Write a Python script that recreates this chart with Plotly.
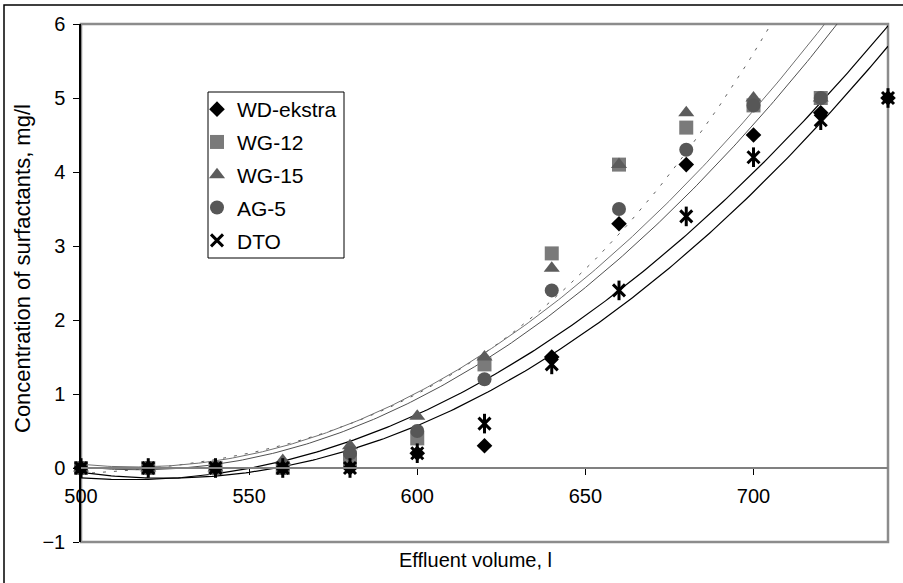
import numpy as np
import plotly.graph_objects as go

# ---- data ----
x_vol = [500, 520, 540, 560, 580, 600, 620, 640, 660, 680, 700, 720, 740]
wd_ekstra = [0, 0, 0, 0, 0, 0.2, 0.3, 1.5, 3.3, 4.1, 4.5, 4.8, 5.0]
dto = [0, 0, 0, 0, 0, 0.2, 0.6, 1.4, 2.4, 3.4, 4.2, 4.7, 5.0]

x_gray = [500, 520, 540, 560, 580, 600, 620, 640, 660, 680, 700, 720]
wg12 = [0, 0, 0, 0, 0.1, 0.4, 1.4, 2.9, 4.1, 4.6, 4.9, 5.0]
wg15 = [0, 0, 0, 0.1, 0.3, 0.7, 1.5, 2.7, 4.1, 4.8, 5.0, 5.0]
ag5 = [0, 0, 0, 0, 0.2, 0.5, 1.2, 2.4, 3.5, 4.3, 4.9, 5.0]

# trend curves, values
tr_dashed_x = [500, 520, 560, 600, 620, 640, 660, 680, 700, 705.5]
tr_dashed_y = [-0.08, 0.0, 0.30, 1.00, 1.55, 2.30, 3.11, 4.28, 5.62, 6.0]
tr_gray1_x = [500, 520, 560, 600, 620, 640, 660, 680, 700, 720.8]
tr_gray1_y = [-0.03, 0.07, 0.38, 1.02, 1.55, 2.15, 2.90, 3.84, 4.86, 6.0]
tr_gray2_x = [500, 520, 560, 600, 620, 640, 660, 680, 700, 724.7]
tr_gray2_y = [-0.07, 0.03, 0.33, 0.95, 1.45, 2.00, 2.75, 3.70, 4.68, 6.0]
tr_wd_x = [500, 540, 600, 620, 660, 680, 700, 720, 740]
tr_wd_y = [-0.15, -0.06, 0.73, 1.20, 2.42, 3.12, 3.95, 4.92, 6.02]
tr_dto_x = [500, 540, 600, 620, 660, 680, 700, 720, 740]
tr_dto_y = [-0.07, -0.10, 0.57, 1.02, 2.20, 2.88, 3.68, 4.62, 5.76]

x_ticks = [500, 550, 600, 650, 700]
y_ticks = [-1, 0, 1, 2, 3, 4, 5, 6]

FONT = "Liberation Sans, Arial, sans-serif"
FS = 20

fig = go.Figure()

xs = np.linspace(500, 740, 241)


def smooth(xr, yr, deg=2):
    c = np.polyfit(xr, yr, deg)
    return np.polyval(c, xs)


# trend lines
fig.add_trace(go.Scatter(x=xs, y=smooth(tr_dashed_x, tr_dashed_y, 3), mode="lines",
                         line=dict(color="#606060", width=1, dash="3px,8px"),
                         showlegend=False, hoverinfo="skip"))
fig.add_trace(go.Scatter(x=xs, y=smooth(tr_gray1_x, tr_gray1_y), mode="lines",
                         line=dict(color="#707070", width=1),
                         showlegend=False, hoverinfo="skip"))
fig.add_trace(go.Scatter(x=xs, y=smooth(tr_gray2_x, tr_gray2_y), mode="lines",
                         line=dict(color="#505050", width=1),
                         showlegend=False, hoverinfo="skip"))
fig.add_trace(go.Scatter(x=xs, y=smooth(tr_wd_x, tr_wd_y), mode="lines",
                         line=dict(color="#000000", width=1.2),
                         showlegend=False, hoverinfo="skip"))
fig.add_trace(go.Scatter(x=xs, y=smooth(tr_dto_x, tr_dto_y), mode="lines",
                         line=dict(color="#000000", width=1.2),
                         showlegend=False, hoverinfo="skip"))

# markers (drawing order)
sq = dict(symbol="square", size=14, color="#7a7a7a")
tri = dict(symbol="triangle-up", size=14, color="#5c5c5c")
cir = dict(symbol="circle", size=14, color="#575757")
dia = dict(symbol="diamond", size=12, color="#000000")
xst = dict(symbol="x-thin-open", size=12, color="#000000", line=dict(width=3, color="#000000"))
vst = dict(symbol="line-ns-open", size=14, color="#000000", line=dict(width=3, color="#000000"))

for xx, yy, m in [(x_gray, wg12, sq), (x_gray, wg15, tri), (x_gray, ag5, cir),
                  (x_vol, wd_ekstra, dia), (x_vol, dto, xst), (x_vol, dto, vst)]:
    fig.add_trace(go.Scatter(x=xx, y=yy, mode="markers", marker=m, cliponaxis=False,
                             showlegend=False))

# legend entries
for name, m in [("WD-ekstra", dia), ("WG-12", sq), ("WG-15", tri), ("AG-5", cir), ("DTO", xst)]:
    fig.add_trace(go.Scatter(x=[None], y=[None], mode="markers", marker=m, name=name,
                             legendgroup=name))

L, R, T, B = 81, 15, 24, 41
W, H = 903, 583
pw, ph = W - L - R, H - T - B


def px(xp):
    return (xp - L) / pw


def py(yp):
    return (H - B - yp) / ph


fig.update_layout(
    width=W, height=H,
    margin=dict(l=L, r=R, t=T, b=B, autoexpand=False),
    paper_bgcolor="white", plot_bgcolor="white",
    font=dict(family=FONT, size=FS, color="#000000"),
    showlegend=True,
    legend=dict(x=px(197), y=py(89), xanchor="left", yanchor="top",
                borderwidth=0, bgcolor="rgba(0,0,0,0)",
                traceorder="grouped", tracegroupgap=2.5, itemwidth=30,
                font=dict(family=FONT, size=21)),
    xaxis=dict(range=[500, 740], tickvals=x_ticks, ticks="outside", ticklen=6,
               tickcolor="#000000", showline=True, linecolor="#808080", linewidth=1.5,
               showgrid=False, zeroline=False, anchor="free", position=1 / 7,
               ticklabelstandoff=4, tickfont=dict(size=FS)),
    yaxis=dict(range=[-1, 6], tickvals=y_ticks, ticks="outside", ticklen=6,
               tickcolor="#000000", showline=True, linecolor="#000000", linewidth=1.5,
               showgrid=False, zeroline=False, ticklabelstandoff=4, tickfont=dict(size=FS)),
    shapes=[
        dict(type="rect", xref="paper", yref="paper", x0=0, x1=1, y0=0, y1=1,
             line=dict(color="#8c8c8c", width=2.5), layer="below"),
        dict(type="rect", xref="paper", yref="paper", x0=px(4), x1=px(910),
             y0=py(595), y1=py(5), line=dict(color="#000000", width=1.5), layer="below"),
        dict(type="rect", xref="paper", yref="paper", x0=px(208), x1=px(344),
             y0=py(258), y1=py(92), line=dict(color="#000000", width=1),
             fillcolor="white", layer="below"),
    ],
    annotations=[
        dict(text="Effluent volume, l", xref="paper", yref="paper", x=px(475), y=py(560),
             showarrow=False, xanchor="center", yanchor="middle", font=dict(size=FS)),
        dict(text="Concentration of surfactants, mg/l", xref="paper", yref="paper",
             x=px(22), y=py(269), textangle=-90, showarrow=False,
             xanchor="center", yanchor="middle", font=dict(size=22)),
    ],
)

fig.write_html("out.html", config={"displayModeBar": False},
               post_script="document.body.style.margin='0';")
